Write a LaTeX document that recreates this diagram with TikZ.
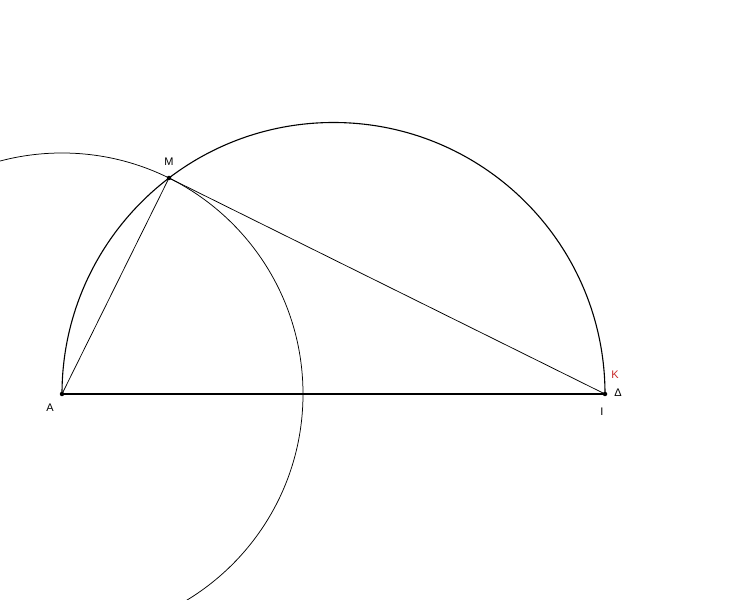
\documentclass[tikz,border=0pt]{standalone}
\usepackage{fontspec}
\setmainfont{Liberation Sans}
\begin{document}
\begin{tikzpicture}[x=1pt,y=1pt,
  thickline/.style={line width=1.1pt,black},
  thinline/.style={line width=0.75pt,black},
  pt/.style={circle,fill=black,inner sep=0pt,minimum size=4.5pt},
  lbl/.style={font=\fontsize{11}{13}\selectfont,inner sep=0pt}]
\useasboundingbox (0,0) rectangle (750,600);
\clip (0,0) rectangle (750,600);
\coordinate (O) at (333.5,206);
\node[pt] (A) at (62,206) {};
\node[pt] (D) at (605,206) {};
\node[pt] (M) at (169,422) {};
% circle centred at A
\draw[thinline] (A) circle (241);
% semicircle on AD
\draw[thickline] (D.center) arc[start angle=0,end angle=180,radius=271.5];
\draw[thickline] (A.center) -- (D.center);
\draw[thinline] (A.center) -- (M.center) -- (D.center);
\node[lbl] (lM) at (169,438) {M};
\node[lbl] (lA) at (50,192) {A};
\node[lbl] (lD) at (618,207) {Δ};
\node[lbl] (lI) at (602,188) {I};
\node[lbl,text={rgb,255:red,200;green,40;blue,40}] (lK) at (615,225) {K};
\end{tikzpicture}
\end{document}
